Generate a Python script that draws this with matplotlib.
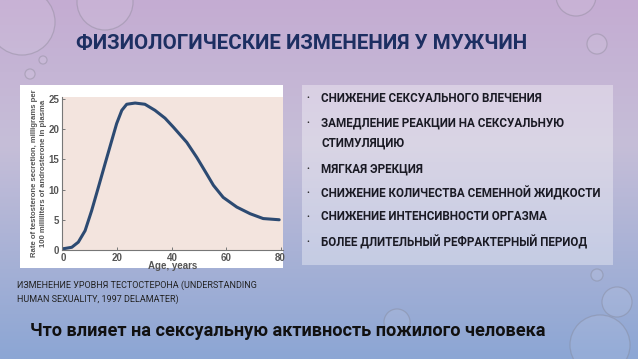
import numpy as np
import matplotlib
matplotlib.use("Agg")
import matplotlib.pyplot as plt
from matplotlib.patches import Rectangle, Circle

# кривая тестостерона (точки)
ages = [0, 3.2, 5.6, 8.1, 10.5, 13.0, 15.4, 17.9, 19.7, 21.6, 23.4, 26.5, 30.1, 33.8, 37.5,
        40.6, 45.5, 49.2, 52.8, 55.3, 58.9, 63.9, 68.8, 73.6, 79.5]
values = [0.2, 0.45, 1.3, 3.2, 6.5, 10.4, 14.2, 18.1, 20.9, 23.1, 24.1, 24.3, 24.1, 23.1, 21.8,
          20.3, 17.8, 15.3, 12.6, 10.7, 8.7, 7.1, 6.0, 5.2, 5.0]
y_ticks = [0, 5, 10, 15, 20, 25]
x_ticks = [0, 20, 40, 60, 80]

title = "ФИЗИОЛОГИЧЕСКИЕ ИЗМЕНЕНИЯ У МУЖЧИН"
bullets = [
    "СНИЖЕНИЕ СЕКСУАЛЬНОГО ВЛЕЧЕНИЯ",
    "ЗАМЕДЛЕНИЕ РЕАКЦИИ НА СЕКСУАЛЬНУЮ\nСТИМУЛЯЦИЮ",
    "МЯГКАЯ ЭРЕКЦИЯ",
    "СНИЖЕНИЕ КОЛИЧЕСТВА СЕМЕННОЙ ЖИДКОСТИ",
    "СНИЖЕНИЕ ИНТЕНСИВНОСТИ ОРГАЗМА",
    "БОЛЕЕ ДЛИТЕЛЬНЫЙ РЕФРАКТЕРНЫЙ ПЕРИОД",
]
caption = "ИЗМЕНЕНИЕ УРОВНЯ ТЕСТОСТЕРОНА (UNDERSTANDING\nHUMAN SEXUALITY, 1997 DELAMATER)"
footer = "Что влияет на сексуальную активность пожилого человека"

W, H = 638, 359
plt.rcParams['font.family'] = ['Roboto', 'DejaVu Sans']

fig = plt.figure(figsize=(W / 100, H / 100), dpi=100)


def px(x, y):
    # пиксели картинки -> доли фигуры
    return x / W, 1 - y / H


# фон слайда: градиент от сиреневого к голубому
bg = fig.add_axes([0, 0, 1, 1])
bg.set_xlim(0, W)
bg.set_ylim(H, 0)
bg.axis('off')
t = np.linspace(0, 1, 200)[:, None]
top = np.array([196, 172, 210]) / 255
mid = np.array([198, 190, 216]) / 255
bot = np.array([140, 166, 212]) / 255
grad = np.where(t < 0.4, top + (mid - top) * (t / 0.4), mid + (bot - mid) * ((t - 0.4) / 0.6))
img = grad[:, None, :] * np.ones((1, 300, 1))
bg.imshow(np.clip(img, 0, 1), extent=[0, W, H, 0], aspect='auto', zorder=0)

# капли воды
for cx, cy, r in [(22, 22, 33), (105, 2, 28), (43, 60, 4), (30, 74, 5), (576, -4, 20),
                  (597, 44, 10), (597, 275, 6), (617, 302, 15), (600, 345, 30), (397, 322, 13)]:
    bg.add_patch(Circle((cx, cy), r, facecolor=(1, 1, 1, 0.08), edgecolor=(0.5, 0.5, 0.55, 0.35),
                        lw=0.9, zorder=1))

# белая подложка графика
bg.add_patch(Rectangle((20, 85), 263, 183, facecolor='white', edgecolor='none', zorder=2))
# светлая панель со списком
bg.add_patch(Rectangle((302, 85), 311, 180, facecolor=(1, 1, 1, 0.35), edgecolor='none', zorder=2))

# график
x0, y0 = px(62, 250)
x1, y1 = px(283, 97)
ax = fig.add_axes([x0, y0, x1 - x0, y1 - y0])
ax.set_facecolor('#f3e4de')
ax.plot(ages, values, color='#2c4a72', lw=2.2, solid_capstyle='round')
ax.set_xlim(-0.4, 80.9)
ax.set_ylim(0, 25.3)
ax.set_xticks(x_ticks)
ax.set_yticks(y_ticks)
for s in ['top', 'right']:
    ax.spines[s].set_visible(False)
for s in ['left', 'bottom']:
    ax.spines[s].set_color('#777777')
    ax.spines[s].set_linewidth(0.8)
ax.tick_params(direction='in', length=2.5, width=0.7, colors='#777777', pad=2)
for lab in ax.get_xticklabels() + ax.get_yticklabels():
    lab.set_family('Liberation Sans')
    lab.set_fontweight('bold')
    lab.set_fontsize(7)
    lab.set_color('#555555')
ax.set_xlabel("Age, years", fontsize=7, fontweight='bold', color='#555555', labelpad=-1,
              family='Liberation Sans')
ax.set_ylabel("Rate of testosterone secretion, milligrams per\n100 milliliters of androsterone in plasma",
              fontsize=5.6, fontweight='bold', color='#555555', labelpad=1, linespacing=1.3,
              family='Liberation Sans')

# заголовок
fig.text(*px(302, 44), title, fontsize=14.8, fontweight='bold', color='#1d2f62', ha='center', va='center')

# пункты списка
line_y = [98, 123, 169, 193, 217, 242]
for yy, txt in zip(line_y, bullets):
    fig.text(*px(306, yy), "•", fontsize=6, color='#222222', ha='left', va='center')
    for k, ln in enumerate(txt.split('\n')):
        fig.text(*px(321, yy + 20 * k), ln, fontsize=8.4, fontweight='bold', color='#1a1a24',
                 ha='left', va='center')

# подпись к графику
for k, ln in enumerate(caption.split('\n')):
    fig.text(*px(17, 285 + 14 * k), ln, fontsize=6.45, color='#222222', ha='left', va='center')

# нижняя строка
fig.text(*px(30, 331), footer, fontsize=13.1, fontweight='bold', color='#111111', ha='left', va='center')

fig.savefig("out.png", dpi=100)
